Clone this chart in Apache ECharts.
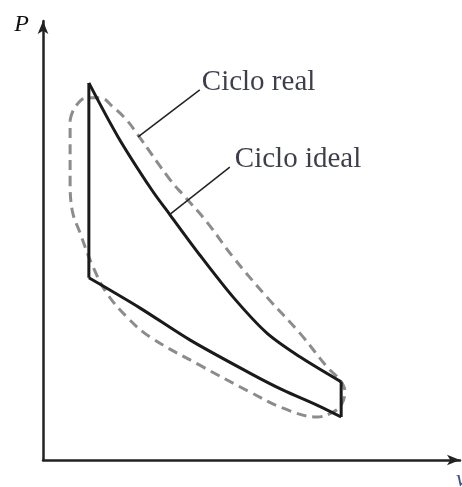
<!DOCTYPE html>
<html>
<head>
<meta charset="utf-8">
<script src="https://cdn.jsdelivr.net/npm/echarts@6/dist/echarts.min.js"></script>
<style>
  html, body { margin: 0; padding: 0; background: #fff; }
  #chart { width: 462px; height: 487px; }
</style>
</head>
<body>
<div id="chart"></div>
<script>
// ciclo ideal (trazo continuo), en unidades arbitrarias v, P
var idealLeft = [[1.10, 8.59], [1.10, 4.15]];
var idealLower = [[1.10, 4.15], [2.33, 3.46], [3.53, 2.73], [4.96, 1.98], [5.76, 1.59], [6.57, 1.25], [7.15, 0.98]];
var idealRight = [[7.15, 0.98], [7.15, 1.78]];
var idealUpper = [[7.15, 1.78], [6.16, 2.35], [5.37, 2.89], [4.56, 3.71], [3.76, 4.67], [3.05, 5.58], [2.61, 6.15], [1.80, 7.36], [1.10, 8.59]];

// ciclo real (trazo discontinuo), lazo cerrado
var realLoop = [
    [0.65, 7.74], [0.77, 8.04], [1.06, 8.25], [1.37, 8.25], [1.68, 8.04], [2.01, 7.74], [2.28, 7.40],
    [3.05, 6.38], [3.41, 5.99], [3.93, 5.42], [4.56, 4.62], [5.37, 3.71], [6.16, 2.89], [6.81, 2.12],
    [7.12, 1.82], [7.24, 1.55], [7.15, 1.25], [6.95, 1.09], [6.57, 0.98], [5.76, 1.18], [4.96, 1.55],
    [3.76, 2.16], [2.57, 2.80], [2.01, 3.26], [1.53, 3.80], [1.20, 4.40], [0.89, 5.17], [0.70, 5.69],
    [0.65, 6.38], [0.65, 7.06], [0.65, 7.74]
];

// líneas de referencia de las etiquetas
var realPointer = [[2.28, 7.36], [3.76, 8.43]];
var idealPointer = [[3.05, 5.60], [4.48, 6.67]];
var labelNames = ['Ciclo real', 'Ciclo ideal'];

var chart = echarts.init(document.getElementById('chart'));

var solid = { color: '#1a1a1a', width: 3 };
var serif = 'Liberation Serif';

function axisLine() {
    return {
        show: true,
        symbol: ['none', 'arrow'],
        symbolSize: [8, 13],
        lineStyle: { color: '#222', width: 2.5 }
    };
}

chart.setOption({
    animation: false,
    grid: { left: 43, right: 2, top: 21, bottom: 27, containLabel: false, outerBoundsMode: 'none' },
    xAxis: {
        type: 'value', min: 0, max: 10,
        name: 'v', nameLocation: 'end', nameGap: -4,
        nameTextStyle: {
            fontFamily: serif, fontStyle: 'italic', fontSize: 24, color: '#2e5597',
            align: 'left', verticalAlign: 'top', padding: [8, 0, 0, 0]
        },
        axisLine: axisLine(),
        axisTick: { show: false },
        axisLabel: { show: false },
        splitLine: { show: false }
    },
    yAxis: {
        type: 'value', min: 0, max: 10,
        name: 'P', nameLocation: 'end', nameGap: -4,
        nameTextStyle: {
            fontFamily: serif, fontStyle: 'italic', fontSize: 24, color: '#111',
            align: 'right', verticalAlign: 'middle', padding: [0, 14, 0, 0]
        },
        axisLine: axisLine(),
        axisTick: { show: false },
        axisLabel: { show: false },
        splitLine: { show: false }
    },
    series: [
        {
            type: 'line', data: realLoop, smooth: 0.4, symbol: 'none',
            lineStyle: { color: '#8c8c8c', width: 3, type: [10, 6] }
        },
        { type: 'line', data: idealLeft, symbol: 'none', lineStyle: solid },
        { type: 'line', data: idealLower, smooth: 0.3, symbol: 'none', lineStyle: solid },
        { type: 'line', data: idealRight, symbol: 'none', lineStyle: solid },
        { type: 'line', data: idealUpper, smooth: 0.3, symbol: 'none', lineStyle: solid },
        { type: 'line', data: realPointer, symbol: 'none', lineStyle: { color: '#222', width: 1.5 } },
        { type: 'line', data: idealPointer, symbol: 'none', lineStyle: { color: '#222', width: 1.5 } },
        {
            type: 'scatter', symbolSize: 0,
            data: [
                { name: labelNames[0], value: realPointer[1], label: { offset: [0, -8] } },
                { name: labelNames[1], value: idealPointer[1], label: { offset: [3, -8] } }
            ],
            label: {
                show: true, position: 'right', distance: 2,
                formatter: '{b}', fontFamily: serif, fontSize: 29, color: '#0b0e1c'
            }
        }
    ]
});
</script>
</body>
</html>
